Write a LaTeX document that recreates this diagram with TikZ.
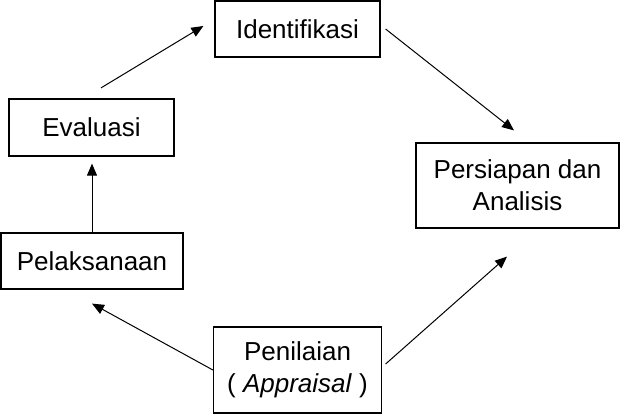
\documentclass[tikz,border=0pt]{standalone}
\usepackage{fontspec}
\setmainfont{Liberation Sans}
\usetikzlibrary{arrows.meta,calc}

\begin{document}
\begin{tikzpicture}[x=0.75pt, y=-0.75pt,
    box/.style={draw, line width=0.9pt, align=center, inner sep=0pt, font=\fontsize{19.5}{24}\selectfont},
    arr/.style={line width=0.75pt, -{Triangle[length=9pt, width=7.5pt]}}]
    \useasboundingbox (0,0) rectangle (620,414);

    \node[box, minimum width=123.75pt, minimum height=42pt] (id) at (297.5,29) {Identifikasi}; % Top box
    \node[box, minimum width=152.25pt, minimum height=63.75pt] (pa) at (517.5,185.5) {Persiapan dan\\Analisis}; % Right box
    \node[box, minimum width=126pt, minimum height=64.5pt] (pn) at (297.5,370) {Penilaian\\( \textit{Appraisal} )}; % Bottom box
    \node[box, minimum width=136.5pt, minimum height=42pt] (pl) at (92,261) {Pelaksanaan}; % Lower left box
    \node[box, minimum width=123.75pt, minimum height=42.75pt] (ev) at (91.5,127.5) {Evaluasi}; % Upper left box

    % Arrows of the cycle
    \draw[arr] ($(ev.north)+(9.5,-10.5)$) -- ($(id.west)+(-11,-3)$);
    \draw[arr] ($(id.east)+(5,0)$) -- ($(pa.north)+(-3.5,-12)$);
    \draw[arr] ($(pn.east)+(3.5,-6)$) -- ($(pa.south)+(-10.5,28)$);
    \draw[arr] (pn.west) -- ($(pl.south)+(0,14)$);
    \draw[arr] (pl.north) -- ($(ev.south)+(0.5,7)$);
\end{tikzpicture}
\end{document}
